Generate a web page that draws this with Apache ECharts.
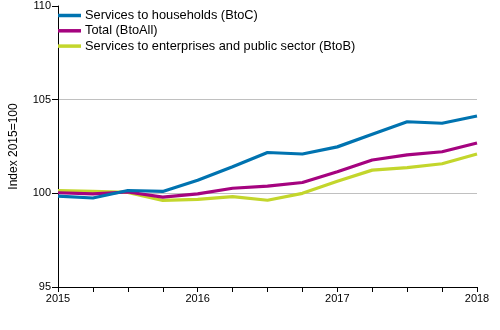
<!DOCTYPE html>
<html><head><meta charset="utf-8">
<script src="https://cdn.jsdelivr.net/npm/echarts@6/dist/echarts.min.js"></script>
<style>html,body{margin:0;padding:0;background:#fff}#c{width:500px;height:330px}</style>
</head><body><div id="c"></div>
<script>
const quarters = ['2015Q1','2015Q2','2015Q3','2015Q4','2016Q1','2016Q2','2016Q3','2016Q4','2017Q1','2017Q2','2017Q3','2017Q4','2018Q1'];
const btoc = [99.85, 99.75, 100.15, 100.1, 100.7, 101.42, 102.18, 102.1, 102.48, 103.15, 103.82, 103.74, 104.13];
const total = [100.03, 99.97, 100.07, 99.8, 99.97, 100.27, 100.38, 100.58, 101.15, 101.78, 102.05, 102.22, 102.69];
const btob = [100.15, 100.1, 100.05, 99.62, 99.68, 99.82, 99.63, 100.0, 100.64, 101.24, 101.37, 101.58, 102.1];
const seriesNames = ['Services to households (BtoC)', 'Total (BtoAll)', 'Services to enterprises and public sector (BtoB)'];
const colors = ['#0073b0', '#a5037f', '#c3d62c'];
const yTicks = [95, 100, 105, 110];

const chart = echarts.init(document.getElementById('c'), null, {renderer: 'canvas'});
const font = 'Arial, "Liberation Sans", sans-serif';
chart.setOption({
  animation: false,
  color: colors,
  grid: {left: 53, right: 23, top: 6, bottom: 43, containLabel: false},
  legend: {
    orient: 'vertical', left: 58, top: 9, padding: 0, itemGap: 2.3, itemWidth: 23, itemHeight: 13,
    icon: 'path://M0,3.5 L23,3.5 L23,7 L0,7 Z',
    textStyle: {fontFamily: font, fontSize: 12.8, color: '#000', padding: [0,0,0,-1]},
    data: seriesNames
  },
  xAxis: {
    type: 'category', data: quarters, boundaryGap: false,
    axisLine: {lineStyle: {color: '#000', width: 1}},
    axisTick: {show: true, interval: 0, length: 5, lineStyle: {color: '#000'}},
    axisLabel: {
      interval: 0, color: '#000', fontFamily: font, fontSize: 11, margin: 6,
      formatter: (v, i) => (i % 4 === 0 ? v.slice(0, 4) : '')
    },
    splitLine: {show: false}
  },
  yAxis: {
    type: 'value', min: yTicks[0], max: yTicks[yTicks.length - 1], interval: 5,
    name: 'Index 2015=100', nameLocation: 'middle', nameGap: 38,
    nameTextStyle: {fontFamily: font, fontSize: 12, color: '#000'},
    axisLine: {show: true, lineStyle: {color: '#000', width: 1}},
    axisTick: {show: true, length: 6, lineStyle: {color: '#000'}},
    axisLabel: {color: '#000', fontFamily: font, fontSize: 11, margin: 7},
    splitLine: {show: true, lineStyle: {color: ['transparent', '#c0c0c0', '#c0c0c0', 'transparent'], width: 1}}
  },
  series: [
    {name: seriesNames[0], type: 'line', data: btoc, symbol: 'none', lineStyle: {width: 3.2}, z: 3},
    {name: seriesNames[1], type: 'line', data: total, symbol: 'none', lineStyle: {width: 3.2}, z: 2},
    {name: seriesNames[2], type: 'line', data: btob, symbol: 'none', lineStyle: {width: 3.2}, z: 1}
  ]
});
</script></body></html>
